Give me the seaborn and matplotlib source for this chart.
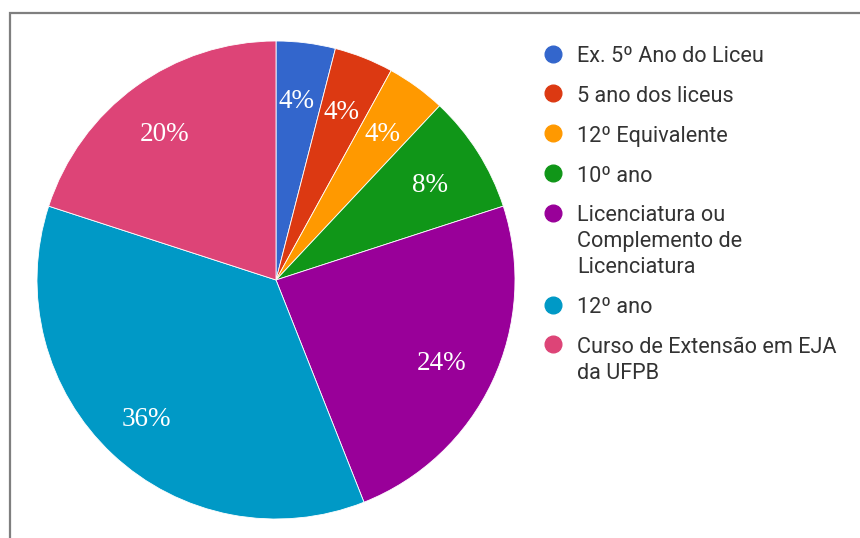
import matplotlib
matplotlib.use("Agg")
import matplotlib.pyplot as plt
from matplotlib.lines import Line2D
from matplotlib.patches import Rectangle
import seaborn as sns

categories = [
    "Ex. 5º Ano do Liceu",
    "5 ano dos liceus",
    "12º Equivalente",
    "10º ano",
    "Licenciatura ou\nComplemento de\nLicenciatura",
    "12º ano",
    "Curso de Extensão em EJA\nda UFPB",
]
values = [4, 4, 4, 8, 24, 36, 20]
colors_hex = ["#3366cc", "#dc3912", "#ff9900", "#109618", "#990099", "#0099c6", "#dd4477"]

sns.set_theme(style="white")
plt.rcParams["font.family"] = ["Roboto", "DejaVu Sans"]
palette = sns.color_palette(colors_hex)

W, H = 860, 538
fig = plt.figure(figsize=(W / 100, H / 100), dpi=100)
fig.patch.set_facecolor("white")

# partial frame border
fig.patches.append(Rectangle((9.5 / W, -0.1), 1.2, 1.1 - 13.5 / H, transform=fig.transFigure,
                             fill=False, edgecolor="#7f7f7f", linewidth=1.6, zorder=0))

cx, cy, r = 276, 280, 239
ax = fig.add_axes([(cx - r) / W, (H - cy - r) / H, 2 * r / W, 2 * r / H])
wedges, texts, autotexts = ax.pie(
    values, colors=palette, startangle=90, counterclock=False,
    autopct=lambda p: f"{p:.0f}%", pctdistance=0.775,
    wedgeprops=dict(linewidth=0.6, edgecolor="white"),
    textprops=dict(color="white", fontsize=19.5, family="Liberation Serif"),
)
for t in autotexts:
    x, y = t.get_position()
    t.set_position((x - 0.01, y - 0.02))
ax.set_xlim(-1, 1)
ax.set_ylim(-1, 1)
ax.set_aspect("equal")
ax.axis("off")

handles = [Line2D([0], [0], marker="o", linestyle="none", markersize=12,
                  markerfacecolor=c, markeredgecolor=c) for c in palette]
leg = fig.legend(handles, categories, loc="upper left", bbox_to_anchor=(544.3 / W, 1 - 46 / H),
                 frameon=False, fontsize=15.6, handlelength=0.8, handletextpad=0.71,
                 labelspacing=0.87, borderaxespad=0, borderpad=0)
for t in leg.get_texts():
    t.set_color("#333333")
    t.set_linespacing(1.305)
for col in leg._legend_handle_box.get_children():
    for item in col.get_children():
        item.align = "top"

fig.savefig("out.png", dpi=100)
